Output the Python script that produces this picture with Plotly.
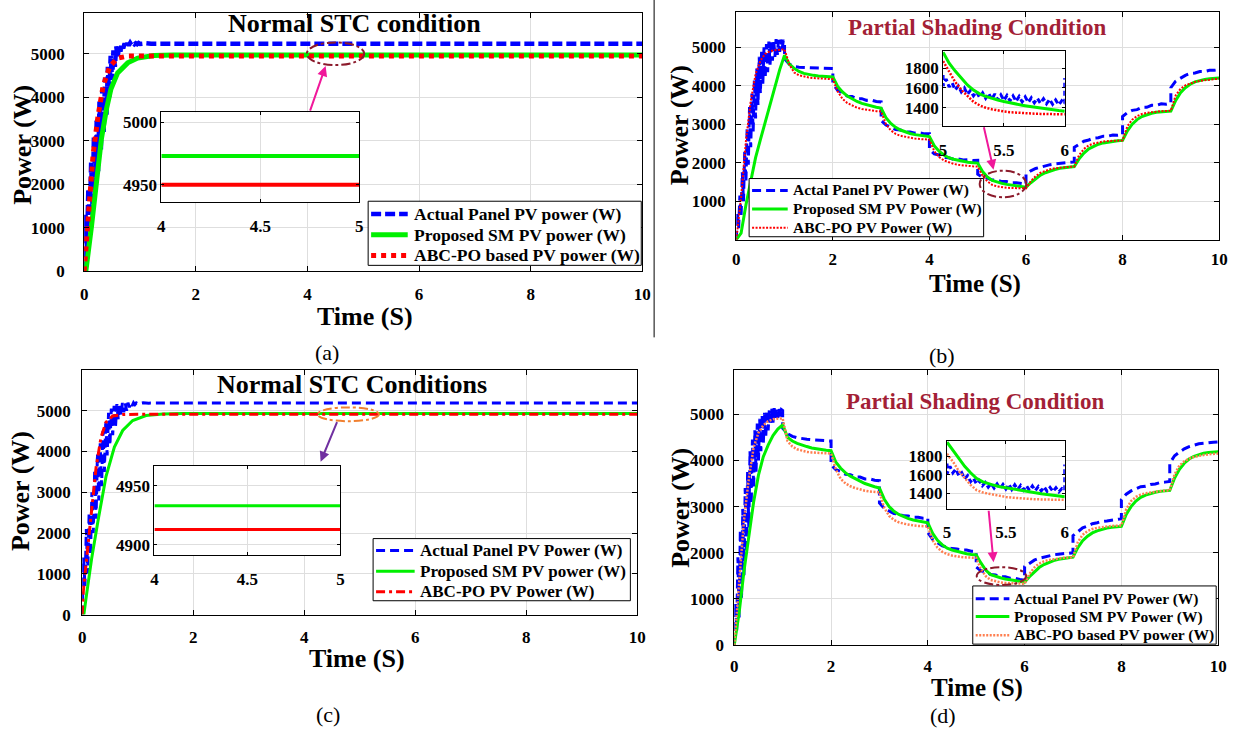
import plotly.graph_objects as go

W, H = 1242, 737
FONT = "Liberation Serif"
BLUE, GREEN, RED, ORANGE = "#0000FF", "#00F000", "#FF0000", "#FF7F50"
MAROON, PINK, PURPLE = "#8B1A2B", "#F0189A", "#7030A0"

# ---------------- shared time grids ----------------
RISE_T = [0.0, 0.025, 0.05, 0.075, 0.1, 0.125, 0.15, 0.175, 0.2, 0.225, 0.25, 0.275, 0.3, 0.325,
          0.35, 0.375, 0.4, 0.425, 0.45, 0.475, 0.5, 0.525, 0.55, 0.575, 0.6, 0.625, 0.65, 0.675,
          0.7, 0.725, 0.75, 0.775, 0.8, 0.825, 0.85, 0.875, 0.9, 0.925, 0.95, 0.975, 1.0]
STEP_T = [1.0, 1.1, 1.2, 1.3, 1.4, 1.5, 1.6, 1.7, 1.8, 1.9, 2.0,
          2.0, 2.1, 2.2, 2.3, 2.4, 2.5, 2.6, 2.7, 2.8, 2.9, 3.0,
          3.0, 3.1, 3.2, 3.3, 3.4, 3.5, 3.6, 3.7, 3.8, 3.9, 4.0,
          4.0, 4.1, 4.2, 4.3, 4.4, 4.5, 4.6, 4.7, 4.8, 4.9, 5.0,
          5.0, 5.1, 5.2, 5.3, 5.4, 5.5, 5.6, 5.7, 5.8, 5.9, 6.0,
          6.0, 6.1, 6.2, 6.3, 6.4, 6.5, 6.6, 6.7, 6.8, 6.9, 7.0,
          7.0, 7.1, 7.2, 7.3, 7.4, 7.5, 7.6, 7.7, 7.8, 7.9, 8.0,
          8.0, 8.1, 8.2, 8.3, 8.4, 8.5, 8.6, 8.7, 8.8, 8.9, 9.0,
          9.0, 9.1, 9.2, 9.3, 9.4, 9.5, 9.6, 9.7, 9.8, 9.9, 10.0]
T10 = [0.0, 0.1, 0.2, 0.3, 0.4, 0.5, 0.6, 0.7, 0.8, 0.9, 1.0,
       1.1, 1.2, 1.3, 1.4, 1.5, 1.6, 1.7, 1.8, 1.9, 2.0,
       2.1, 2.2, 2.3, 2.4, 2.5, 2.6, 2.7, 2.8, 2.9, 3.0,
       3.1, 3.2, 3.3, 3.4, 3.5, 3.6, 3.7, 3.8, 3.9, 4.0,
       4.1, 4.2, 4.3, 4.4, 4.5, 4.6, 4.7, 4.8, 4.9, 5.0,
       5.1, 5.2, 5.3, 5.4, 5.5, 5.6, 5.7, 5.8, 5.9, 6.0,
       6.1, 6.2, 6.3, 6.4, 6.5, 6.6, 6.7, 6.8, 6.9, 7.0,
       7.1, 7.2, 7.3, 7.4, 7.5, 7.6, 7.7, 7.8, 7.9, 8.0,
       8.1, 8.2, 8.3, 8.4, 8.5, 8.6, 8.7, 8.8, 8.9, 9.0,
       9.1, 9.2, 9.3, 9.4, 9.5, 9.6, 9.7, 9.8, 9.9, 10.0]
IN_T = [5.0, 5.05, 5.1, 5.15, 5.2, 5.25, 5.3, 5.35, 5.4, 5.45, 5.5,
        5.55, 5.6, 5.65, 5.7, 5.75, 5.8, 5.85, 5.9, 5.95, 6.0]
BIN_T = [5.0, 5.0, 5.025, 5.05, 5.075, 5.1, 5.125, 5.15, 5.175, 5.2, 5.225, 5.25, 5.275, 5.3,
         5.325, 5.35, 5.375, 5.4, 5.425, 5.45, 5.475, 5.5, 5.525, 5.55, 5.575, 5.6, 5.625, 5.65,
         5.675, 5.7, 5.725, 5.75, 5.775, 5.8, 5.825, 5.85, 5.875, 5.9, 5.925, 5.95, 5.975, 6.0, 6.0]
STC_IN_T = [4.0, 5.0]
TAIL_T = [1.1, 1.2, 1.3, 1.5, 10.0]

# ---------------- panel (a) ----------------
a_blue = [0, 1300, 500, 1900, 1100, 2500, 1500, 3100, 2000, 3500, 2300, 3900, 2800, 4200,
          3200, 4450, 3600, 4700, 4000, 4950, 4400, 5080, 4700, 5170, 4900, 5200, 5050, 5230,
          5120, 5240, 5160, 5245, 5190, 5250, 5200, 5245, 5215, 5240, 5220, 5245, 5225,
          5240, 5228, 5236, 5230, 5230]
a_green_t = [0, 0.03, 0.13, 0.22, 0.31, 0.4, 0.48, 0.6, 0.78, 0.96, 1.25, 1.6, 10]
a_green = [0, 0, 1020, 2150, 3050, 3730, 4190, 4560, 4790, 4900, 4960, 4973, 4973]
a_red_t = [0, 0.04, 0.1, 0.16, 0.25, 0.34, 0.46, 0.6, 0.78, 1.0, 10]
a_red = [0, 720, 1770, 2680, 3580, 4260, 4710, 4900, 4945, 4950, 4950]
a_in_green = [4973, 4973]
a_in_red = [4950, 4950]

# ---------------- panel (c) ----------------
c_blue = [0, 1400, 700, 2100, 1000, 2500, 1450, 3000, 2000, 3550, 2350, 3950, 2800, 4200,
          3150, 4500, 3500, 4750, 3900, 4950, 4150, 5050, 4400, 5120, 4600, 5160, 4780, 5180,
          4880, 5190, 4960, 5190, 5000, 5195, 5080, 5190, 5120, 5195, 5150, 5190, 5170,
          5195, 5185, 5192, 5190, 5190]
c_green_t = [0, 0.03, 0.08, 0.17, 0.29, 0.43, 0.58, 0.73, 0.91, 1.15, 1.45, 1.8, 10]
c_green = [0, 0, 500, 1370, 2340, 3390, 4110, 4515, 4760, 4880, 4920, 4933, 4933]
c_red_t = [0, 0.02, 0.08, 0.14, 0.2, 0.25, 0.34, 0.43, 0.55, 0.73, 1.0, 10]
c_red = [0, 560, 1370, 2180, 2980, 3600, 4350, 4720, 4870, 4905, 4913, 4913]
c_in_green = [4933, 4933]
c_in_red = [4913, 4913]

# ---------------- panel (b) ----------------
b_blue_rise = [0, 700, 300, 1150, 600, 1750, 1000, 2300, 1500, 2900, 1950, 3450, 2400, 3800,
               2800, 4150, 3150, 4450, 3500, 4750, 3800, 4900, 4050, 5000, 4200, 5080, 4350, 5150,
               4550, 5180, 4650, 5200, 4750, 5210, 4800, 5190, 4880, 5200, 4950, 5180, 5150]
b_blue_steps = [4700, 4560, 4500, 4480, 4470, 4465, 4460, 4458, 4455, 4450, 4445,
                4050, 3880, 3820, 3730, 3720, 3660, 3665, 3620, 3625, 3590, 3580,
                3100, 2980, 2930, 2860, 2850, 2800, 2800, 2770, 2775, 2750, 2750,
                2350, 2230, 2200, 2140, 2130, 2090, 2095, 2070, 2075, 2055, 2060,
                1700, 1620, 1600, 1550, 1545, 1510, 1510, 1480, 1480, 1450, 1440,
                1700, 1790, 1850, 1890, 1930, 1950, 1970, 1985, 2000, 2010, 2020,
                2400, 2480, 2560, 2590, 2640, 2650, 2690, 2690, 2720, 2715, 2730,
                3200, 3300, 3360, 3380, 3440, 3440, 3490, 3490, 3530, 3520, 3550,
                3950, 4120, 4200, 4270, 4320, 4330, 4370, 4370, 4400, 4400, 4420]
b_green = [0, 170, 900, 1560, 2130, 2600, 3050, 3500, 3950, 4420, 4790,
           4560, 4450, 4370, 4320, 4290, 4270, 4255, 4245, 4235, 4230,
           3980, 3840, 3730, 3650, 3590, 3540, 3500, 3470, 3440, 3420,
           3170, 3020, 2920, 2850, 2800, 2760, 2730, 2710, 2690, 2680,
           2440, 2300, 2200, 2130, 2090, 2060, 2035, 2015, 2000, 1990,
           1770, 1630, 1540, 1495, 1463, 1437, 1415, 1396, 1380, 1365,
           1480, 1590, 1680, 1740, 1790, 1825, 1855, 1875, 1890, 1900,
           2100, 2250, 2360, 2430, 2480, 2515, 2540, 2560, 2572, 2580,
           2830, 3000, 3120, 3200, 3250, 3285, 3310, 3325, 3335, 3340,
           3620, 3820, 3950, 4040, 4100, 4140, 4165, 4180, 4192, 4200]
b_red = [0, 1100, 2560, 3600, 4300, 4650, 4830, 4900, 4925, 4935, 4945,
         4550, 4345, 4270, 4235, 4215, 4200, 4190, 4182, 4176, 4170,
         3850, 3660, 3550, 3480, 3430, 3395, 3370, 3352, 3340, 3330,
         3000, 2840, 2750, 2700, 2670, 2645, 2628, 2615, 2606, 2600,
         2300, 2150, 2060, 2005, 1970, 1945, 1928, 1915, 1906, 1900,
         1660, 1515, 1425, 1385, 1362, 1350, 1343, 1338, 1335, 1333,
         1520, 1650, 1740, 1795, 1830, 1855, 1872, 1884, 1893, 1900,
         2200, 2360, 2450, 2500, 2530, 2550, 2563, 2572, 2577, 2580,
         2950, 3120, 3210, 3265, 3295, 3315, 3330, 3340, 3346, 3350,
         3750, 3920, 4010, 4065, 4100, 4125, 4145, 4160, 4172, 4180]
b_in_blue = [1730, 1620, 1690, 1610, 1650, 1580, 1620, 1560, 1600, 1535, 1575, 1520, 1560, 1505,
             1550, 1495, 1545, 1485, 1540, 1480, 1530, 1475, 1525, 1470, 1520, 1465, 1515, 1460,
             1510, 1455, 1500, 1450, 1495, 1445, 1490, 1440, 1485, 1435, 1478, 1430, 1470, 1440, 1700]
b_in_green = [1960, 1850, 1770, 1695, 1630, 1578, 1540, 1514, 1494, 1478, 1463,
              1449, 1437, 1425, 1415, 1405, 1396, 1388, 1380, 1372, 1365]
b_in_red = [1870, 1770, 1660, 1580, 1515, 1460, 1425, 1400, 1385, 1372, 1362,
            1355, 1350, 1346, 1343, 1340, 1338, 1337, 1335, 1334, 1333]

# ---------------- panel (d) ----------------
d_blue_rise = [0, 900, 300, 1900, 600, 2500, 1000, 2950, 1500, 3400, 2000, 3750, 2550, 4200,
               3050, 4450, 3400, 4650, 3750, 4800, 4000, 4900, 4200, 4980, 4370, 5030, 4500, 5080,
               4650, 5100, 4760, 5120, 4820, 5130, 4880, 5100, 4920, 5140, 4950, 5100, 5080]
d_blue_steps = [4700, 4580, 4520, 4490, 4470, 4460, 4450, 4440, 4430, 4425, 4420,
                3900, 3800, 3760, 3700, 3690, 3640, 3640, 3600, 3600, 3570, 3560,
                3080, 2960, 2910, 2850, 2840, 2800, 2795, 2770, 2770, 2750, 2750,
                2440, 2290, 2220, 2150, 2120, 2090, 2080, 2060, 2060, 2035, 2030,
                1690, 1610, 1580, 1530, 1520, 1480, 1480, 1450, 1450, 1420, 1405,
                1700, 1780, 1840, 1880, 1910, 1935, 1955, 1970, 1985, 1995, 2000,
                2370, 2460, 2540, 2580, 2630, 2650, 2680, 2690, 2710, 2720, 2740,
                3150, 3270, 3340, 3380, 3430, 3440, 3480, 3490, 3520, 3530, 3545,
                3940, 4100, 4180, 4250, 4300, 4330, 4360, 4370, 4390, 4395, 4400]
d_green = [0, 700, 1600, 2400, 3100, 3680, 4080, 4330, 4540, 4680, 4770,
           4500, 4420, 4370, 4330, 4300, 4270, 4250, 4235, 4220, 4210,
           3960, 3830, 3730, 3660, 3600, 3550, 3500, 3460, 3430, 3400,
           3160, 3000, 2900, 2830, 2780, 2740, 2710, 2685, 2665, 2650,
           2420, 2270, 2170, 2100, 2060, 2030, 2000, 1980, 1965, 1955,
           1775, 1620, 1525, 1485, 1458, 1434, 1412, 1394, 1377, 1363,
           1480, 1590, 1680, 1745, 1795, 1830, 1858, 1878, 1895, 1905,
           2110, 2260, 2360, 2430, 2475, 2510, 2535, 2552, 2563, 2570,
           2830, 3000, 3120, 3200, 3250, 3285, 3310, 3330, 3342, 3350,
           3620, 3810, 3940, 4030, 4090, 4130, 4155, 4170, 4182, 4190]
d_orange = [0, 1380, 2700, 3600, 4280, 4600, 4760, 4850, 4890, 4905, 4910,
            4420, 4300, 4240, 4205, 4185, 4172, 4164, 4158, 4153, 4150,
            3800, 3600, 3500, 3440, 3400, 3370, 3345, 3328, 3317, 3310,
            2970, 2800, 2710, 2660, 2630, 2608, 2592, 2582, 2575, 2570,
            2270, 2110, 2020, 1970, 1940, 1920, 1908, 1899, 1893, 1890,
            1640, 1490, 1410, 1382, 1360, 1346, 1338, 1333, 1330, 1328,
            1540, 1680, 1765, 1815, 1845, 1865, 1880, 1890, 1896, 1900,
            2230, 2390, 2470, 2515, 2540, 2558, 2570, 2580, 2586, 2590,
            2940, 3120, 3210, 3260, 3290, 3310, 3325, 3336, 3344, 3350,
            3700, 3890, 3980, 4040, 4075, 4100, 4118, 4132, 4142, 4150]
d_in_blue = [1720, 1610, 1690, 1620, 1660, 1590, 1620, 1555, 1590, 1525, 1560, 1500, 1535, 1480,
             1515, 1465, 1505, 1455, 1500, 1450, 1495, 1445, 1495, 1440, 1490, 1440, 1485, 1435,
             1480, 1430, 1478, 1428, 1472, 1425, 1468, 1420, 1462, 1418, 1458, 1415, 1450, 1430, 1710]
d_in_green = [1950, 1860, 1775, 1690, 1620, 1560, 1525, 1502, 1485, 1470, 1458,
              1446, 1434, 1423, 1412, 1403, 1394, 1385, 1377, 1370, 1363]
d_in_orange = [1824, 1740, 1640, 1560, 1490, 1434, 1410, 1395, 1382, 1370, 1360,
               1352, 1346, 1342, 1338, 1335, 1333, 1331, 1330, 1329, 1328]

# ---------------- labels ----------------
X_TICKS = [0, 2, 4, 6, 8, 10]
Y_TICKS_FULL = [0, 1000, 2000, 3000, 4000, 5000]
Y_TICKS_B = [1000, 2000, 3000, 4000, 5000]
STC_IN_X = [4, 4.5, 5]
PSC_IN_X = [5, 5.5, 6]
PSC_IN_Y = [1400, 1600, 1800]
A_IN_Y = [4950, 5000]
C_IN_Y = [4900, 4950]
LEG_NAMES = {
    "a": ["Actual Panel PV power (W)", "Proposed SM PV power (W)", "ABC-PO based PV power (W)"],
    "b": ["Actal Panel PV Power (W)", "Proposed SM PV Power (W)", "ABC-PO PV Power (W)"],
    "c": ["Actual Panel PV Power (W)", "Proposed SM PV power (W)", "ABC-PO PV Power (W)"],
    "d": ["Actual Panel PV Power (W)", "Proposed SM PV Power (W)", "ABC-PO based PV power (W)"],
}

# ---------------- styles ----------------
STYLE = {
    "a": [(BLUE, 4.5, "10px,4px"), (GREEN, 5, "solid"), (RED, 5, "5px,5px")],
    "b": [(BLUE, 3, "9px,5px"), (GREEN, 3, "solid"), (RED, 2, "2px,1.5px")],
    "c": [(BLUE, 3, "9px,5px"), (GREEN, 3, "solid"), (RED, 3, "9px,4px,3px,4px")],
    "d": [(BLUE, 3, "9px,5px"), (GREEN, 3, "solid"), (ORANGE, 2.5, "2px,1.5px")],
}

# ---------------- layout geometry (pixels) ----------------
MAIN = {  # x0, x1, y0(top), y1(bottom), ymax, y-label standoff, x-label standoff
    "a": (81, 645, 13, 275, 5940, 15, 7),
    "b": (740, 1228, 12, 243, 5920, 6, 4),
    "c": (79, 640, 375, 623, 6000, 7, 7),
    "d": (738, 1227, 375, 654, 5960, 6, 5),
}
INSET = {  # x0, x1, y0, y1, xrange, yrange
    "a": (159, 359, 114, 205, [4, 5], [4936, 5008]),
    "b": (949, 1072, 52, 128, [5, 6], [1213, 1970]),
    "c": (152, 340, 472, 563, [4, 5], [4891, 4967]),
    "d": (953, 1072, 447, 516, [5, 6], [1230, 1963]),
}
LEGBOX = {  # box x0,x1,y0,y1 ; symbol x0,x1 ; text x ; rows ; font size
    "a": ((368, 644, 204, 269), (371, 408), 412, (217, 238, 259), 17.5),
    "b": ((753, 990, 181, 240), (756, 792), 795, (193, 212, 231), 15.5),
    "c": ((373, 633, 546, 609), (376, 415), 418, (558, 579, 600), 17),
    "d": ((979, 1225, 594, 653), (982, 1016), 1019, (607, 625, 644), 15.5),
}


def dx(x0, x1):
    return [x0 / W, x1 / W]


def dy(y0, y1):
    return [1 - y1 / H, 1 - y0 / H]


def px(x):
    return x / W


def py(y):
    return 1 - y / H


fig = go.Figure()

tickfont = dict(family=FONT, size=17, color="black", weight="bold")
intickfont = dict(family=FONT, size=17, color="black", weight="bold")
GRID = "#DEDEDE"

ids = {"a": 1, "b": 2, "c": 3, "d": 4}
layout = dict(width=W, height=H, margin=dict(l=0, r=0, t=0, b=0),
              paper_bgcolor="white", plot_bgcolor="white", showlegend=False)
shapes = []
annotations = []

for key, n in ids.items():
    x0, x1, y0, y1, ymax, ystand, xstand = MAIN[key]
    xs = "" if n == 1 else str(n)
    layout["xaxis" + xs] = dict(domain=dx(x0, x1), range=[0, 10], tickvals=X_TICKS,
                                anchor="y" + xs, showgrid=True, gridcolor=GRID, zeroline=False,
                                showline=True, linecolor="black", linewidth=1, mirror="ticks",
                                ticks="inside", ticklen=5, tickcolor="black", tickfont=tickfont,
                                ticklabelstandoff=xstand)
    layout["yaxis" + xs] = dict(domain=dy(y0, y1), range=[0, ymax],
                                tickvals=Y_TICKS_B if key == "b" else Y_TICKS_FULL,
                                anchor="x" + xs, showgrid=True, gridcolor=GRID, zeroline=False,
                                showline=True, linecolor="black", linewidth=1, mirror="ticks",
                                ticks="inside", ticklen=5, tickcolor="black", tickfont=tickfont,
                                ticklabelstandoff=ystand)
    ix0, ix1, iy0, iy1, xr, yr = INSET[key]
    m = n + 4
    layout["xaxis%d" % m] = dict(domain=dx(ix0, ix1), range=xr,
                                 tickvals=STC_IN_X if key in "ac" else PSC_IN_X,
                                 ticktext=["4", "4.5", "5"] if key in "ac" else ["5", "5.5", "6"],
                                 anchor="y%d" % m, showgrid=True, gridcolor=GRID, zeroline=False,
                                 showline=True, linecolor="black", linewidth=1, mirror="ticks",
                                 ticks="inside", ticklen=3, tickcolor="black", tickfont=intickfont,
                                 ticklabelstandoff=8)
    layout["yaxis%d" % m] = dict(domain=dy(iy0, iy1), range=yr,
                                 tickvals={"a": A_IN_Y, "c": C_IN_Y}.get(key, PSC_IN_Y),
                                 anchor="x%d" % m, showgrid=True, gridcolor=GRID, zeroline=False,
                                 showline=True, linecolor="black", linewidth=1, mirror="ticks",
                                 ticks="inside", ticklen=3, tickcolor="black", tickfont=intickfont)
    # white background behind the inset, in the main subplot (between its grid and its traces)
    shapes.append(dict(type="rect", xref="x" + xs, yref="y" + xs,
                       x0=(ix0 - x0) / (x1 - x0) * 10, x1=(ix1 - x0) / (x1 - x0) * 10,
                       y0=(y1 - iy1) / (y1 - y0) * ymax, y1=(y1 - iy0) / (y1 - y0) * ymax,
                       fillcolor="white", line=dict(width=0), layer="between"))


def add(x, y, n, style):
    color, width, dash = style
    xs = "" if n == 1 else str(n)
    fig.add_trace(go.Scatter(x=x, y=y, mode="lines", xaxis="x" + xs, yaxis="y" + xs,
                             line=dict(color=color, width=width, dash=dash), showlegend=False))


S = STYLE
# (a)
add(RISE_T + TAIL_T, a_blue, 1, S["a"][0])
add(a_green_t, a_green, 1, S["a"][1])
add(a_red_t, a_red, 1, S["a"][2])
add(STC_IN_T, a_in_green, 5, (GREEN, 4, "solid"))
add(STC_IN_T, a_in_red, 5, (RED, 4, "solid"))
# (b)
add(RISE_T + STEP_T, b_blue_rise + b_blue_steps, 2, S["b"][0])
add(T10, b_green, 2, S["b"][1])
add(T10, b_red, 2, S["b"][2])
add(BIN_T, b_in_blue, 6, (BLUE, 3, "5px,3px"))
add(IN_T, b_in_green, 6, (GREEN, 3, "solid"))
add(IN_T, b_in_red, 6, (RED, 2.5, "2px,1.5px"))
# (c)
add(RISE_T + TAIL_T, c_blue, 3, S["c"][0])
add(c_green_t, c_green, 3, S["c"][1])
add(c_red_t, c_red, 3, S["c"][2])
add(STC_IN_T, c_in_green, 7, (GREEN, 3, "solid"))
add(STC_IN_T, c_in_red, 7, (RED, 3, "solid"))
# (d)
add(RISE_T + STEP_T, d_blue_rise + d_blue_steps, 4, S["d"][0])
add(T10, d_green, 4, S["d"][1])
add(T10, d_orange, 4, S["d"][2])
add(BIN_T, d_in_blue, 8, (BLUE, 3, "5px,3px"))
add(IN_T, d_in_green, 8, (GREEN, 3, "solid"))
add(IN_T, d_in_orange, 8, (ORANGE, 2.5, "2px,1.5px"))

# legends (box, line samples, labels)
for key in "abcd":
    (bx0, bx1, by0, by1), (sx0, sx1), tx, rows, fsize = LEGBOX[key]
    shapes.append(dict(type="rect", xref="paper", yref="paper", x0=px(bx0), x1=px(bx1),
                       y0=py(by1), y1=py(by0), fillcolor="white",
                       line=dict(color="black", width=1), layer="above"))
    for (color, width, dash), name, ry in zip(STYLE[key], LEG_NAMES[key], rows):
        shapes.append(dict(type="line", xref="paper", yref="paper", x0=px(sx0), x1=px(sx1),
                           y0=py(ry), y1=py(ry), line=dict(color=color, width=width, dash=dash),
                           layer="above"))
        annotations.append(dict(x=px(tx), y=py(ry), xref="paper", yref="paper", text=name,
                                showarrow=False, xanchor="left", yanchor="middle",
                                font=dict(family=FONT, size=fsize, color="black", weight="bold")))

# ellipses
for (ex0, ex1, ey0, ey1, col) in [(306, 364, 43, 66, MAROON), (986, 1033, 173, 200, MAROON),
                                  (317, 379, 413, 427, "#F08030"), (983, 1033, 575, 593, MAROON)]:
    shapes.append(dict(type="circle", xref="paper", yref="paper", x0=px(ex0), x1=px(ex1),
                       y0=py(ey1), y1=py(ey0), line=dict(color=col, width=2, dash="dashdot"),
                       layer="above"))
# separator
shapes.append(dict(type="line", xref="paper", yref="paper", x0=px(657), x1=px(657),
                   y0=py(0), y1=py(342), line=dict(color="black", width=1)))

# arrows (head x, head y, tail offset)
for (hx, hy, ax, ay, col) in [(325, 67, -16, 46, PINK), (1000, 172, -10, -44, PINK),
                              (320, 468, 17, -41, PURPLE), (1000, 570, -5, -53, PINK)]:
    annotations.append(dict(x=px(hx), y=py(hy), xref="paper", yref="paper", ax=ax, ay=ay,
                            text="", showarrow=True, arrowhead=2, arrowsize=1, arrowwidth=2,
                            arrowcolor=col, standoff=0))


def label(text, x, y, size, color="black", bold=True, angle=0):
    annotations.append(dict(x=px(x), y=py(y), xref="paper", yref="paper", text=text,
                            showarrow=False, textangle=angle, xanchor="center", yanchor="middle",
                            font=dict(family=FONT, size=size, color=color,
                                      weight="bold" if bold else "normal")))


TITLE_RED = "#A31F36"
label("Normal STC condition", 354, 24, 26)
label("Partial Shading Condition", 983, 28, 23, TITLE_RED)
label("Normal STC Conditions", 352, 390, 26)
label("Partial Shading Condition", 981, 407, 23, TITLE_RED)
label("Time (S)", 365, 321, 26)
label("Time (S)", 981, 288, 25)
label("Time (S)", 357, 668, 26)
label("Time (S)", 983, 697, 25)
label("Power (W)", 18, 147, 26, angle=-90)
label("Power (W)", 682, 127, 26, angle=-90)
label("Power (W)", 16, 498, 26, angle=-90)
label("Power (W)", 683, 515, 26, angle=-90)
label("(a)", 326, 357, 22, bold=False)
label("(b)", 948, 360, 22, bold=False)
label("(c)", 327, 724, 22, bold=False)
label("(d)", 949, 725, 22, bold=False)

layout["shapes"] = shapes
layout["annotations"] = annotations
fig.update_layout(**layout)
fig.write_html("out.html", config={"displayModeBar": False},
               post_script="document.body.style.margin='0px';document.body.style.overflow='hidden';")
